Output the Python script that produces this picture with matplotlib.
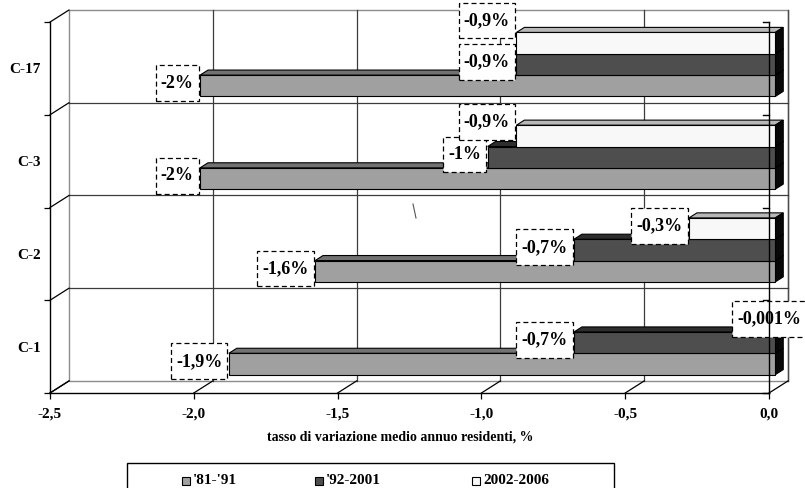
import matplotlib
matplotlib.use("Agg")
import matplotlib.pyplot as plt
from matplotlib.patches import Polygon, Rectangle
from matplotlib.lines import Line2D
from matplotlib.path import Path

# ---- data -------------------------------------------------------------
categories = ["C-1", "C-2", "C-3", "C-17"]
series_names = ["'81-'91", "'92-2001", "2002-2006"]
v_81_91 = [-1.9, -1.6, -2.0, -2.0]
v_92_01 = [-0.7, -0.7, -1.0, -0.9]
v_02_06 = [-0.001, -0.3, -0.9, -0.9]
x_ticks = [-2.5, -2.0, -1.5, -1.0, -0.5, 0.0]
x_ticklabels = ["-2,5", "-2,0", "-1,5", "-1,0", "-0,5", "0,0"]
x_title = "tasso di variazione medio annuo residenti, %"

series_values = [v_81_91, v_92_01, v_02_06]

# ---- style ------------------------------------------------------------
face_colors = ["#a0a0a0", "#4e4e4e", "#f8f8f8"]
top_colors = ["#727272", "#2e2e2e", "#b8b8b8"]
end_color = "#080808"
FONT = "Liberation Serif"
plt.rcParams["font.family"] = [FONT, "DejaVu Serif"]
plt.rcParams["font.weight"] = "bold"

W, H = 805, 488
fig = plt.figure(figsize=(W / 100, H / 100), dpi=100)

# plot box in pixels (front-left corner to back-right corner)
L, R, B, T = 50, 788, 393, 10
ax = fig.add_axes([L / W, 1 - B / H, (R - L) / W, (B - T) / H])

XMIN, XMAX = -2.5, 0.0
NCAT = len(categories)
DX = 0.066          # oblique depth shift (value units)
DY = 0.13           # oblique depth shift (category units)
ax.set_xlim(XMIN, XMAX + DX)
ax.set_ylim(0, NCAT + DY)
ax.patch.set_visible(False)

px_x = (R - L) / (XMAX + DX - XMIN)   # pixels per value unit
px_y = (B - T) / (NCAT + DY)          # pixels per category unit


def proj(x, y, z):
    return (x + z * DX, y + z * DY)


# ---- back wall and floor ---------------------------------------------
wall = Rectangle((XMIN + DX, DY), XMAX - XMIN, NCAT, facecolor="white",
                 edgecolor="#8c8c8c", lw=1.0, zorder=0, clip_on=False)
ax.add_patch(wall)
for t in x_ticks[1:-1]:
    ax.plot([t + DX, t + DX], [DY, NCAT + DY], color="#3c3c3c", lw=0.9,
            zorder=1, clip_on=False)
ax.plot([XMAX + DX, XMAX + DX], [DY, NCAT + DY], color="#4a4a4a", lw=1.0,
        zorder=1, clip_on=False)
for k in range(1, NCAT):
    ax.plot([XMIN + DX, XMAX + DX], [k + DY, k + DY], color="#3c3c3c",
            lw=0.9, zorder=1, clip_on=False)

# depth connectors along the floor and the left side
for t in x_ticks:
    ax.plot([t, t + DX], [0, DY], color="black", lw=0.9, zorder=1,
            clip_on=False)
for k in range(NCAT + 1):
    ax.plot([XMIN, XMIN + DX], [k, k + DY], color="black", lw=0.9,
            zorder=1, clip_on=False)

# ---- 3-D bars ---------------------------------------------------------
BAR_H = 0.23
Z_F, Z_B = 0.33, 0.75
Z_LBL = 0.55


def bar_bottom(ci, si):
    return ci + 0.5 - 1.5 * BAR_H + si * BAR_H


for ci in range(NCAT):
    for si, vals in enumerate(series_values):
        v = vals[ci]
        y0 = bar_bottom(ci, si)
        y1 = y0 + BAR_H
        front = [proj(v, y0, Z_F), proj(0, y0, Z_F),
                 proj(0, y1, Z_F), proj(v, y1, Z_F)]
        top = [proj(v, y1, Z_F), proj(0, y1, Z_F),
               proj(0, y1, Z_B), proj(v, y1, Z_B)]
        end = [proj(0, y0, Z_F), proj(0, y0, Z_B),
               proj(0, y1, Z_B), proj(0, y1, Z_F)]
        z = 2 + ci * 0.1 + si * 0.01
        ax.add_patch(Polygon(top, closed=True, facecolor=top_colors[si],
                             edgecolor="black", lw=0.8, zorder=z,
                             clip_on=False))
        ax.add_patch(Polygon(end, closed=True, facecolor=end_color,
                             edgecolor="black", lw=0.8, zorder=z,
                             clip_on=False))
        ax.add_patch(Polygon(front, closed=True, facecolor=face_colors[si],
                             edgecolor="black", lw=0.8, zorder=z,
                             clip_on=False))

# ---- value labels -----------------------------------------------------
LBL_SIZE = 13
PAD_X, PAD_Y = 0.28, 0.52


def label_box(x0, y0, width, height, mutation_size):
    """Rectangular label frame with separate horizontal/vertical padding."""
    px_, py_ = PAD_X * mutation_size, PAD_Y * mutation_size
    xa, xb = x0 - px_, x0 + width + px_
    ya, yb = y0 - py_, y0 + height + py_
    return Path([(xa, ya), (xb, ya), (xb, yb), (xa, yb), (xa, ya)],
                closed=True)


label_shift_px = {(2, 3): (0, 20), (2, 2): (0, 11), (2, 0): (33, 0)}


def fmt(v):
    return f"{v:g}".replace(".", ",") + "%"


pad_pt = PAD_X * LBL_SIZE
for ci in range(NCAT):
    for si, vals in enumerate(series_values):
        v = vals[ci]
        yc = bar_bottom(ci, si) + BAR_H / 2
        xy = (v + Z_F * DX, proj(v, yc, Z_LBL)[1])
        sx, sy = label_shift_px.get((si, ci), (0, 0))
        ax.annotate(fmt(v), xy=xy, xytext=(-pad_pt - 1 + sx * 0.72, sy * 0.72),
                    textcoords="offset points", ha="right", va="center",
                    fontsize=LBL_SIZE, fontweight="bold", family=FONT,
                    zorder=8, annotation_clip=False,
                    bbox=dict(boxstyle=label_box, fc="white",
                              ec="black", lw=0.9, ls=(0, (4, 2.5))))

# front zero line with its ticks (drawn over bars and labels)
tick_dx = 6 / px_x
ax.plot([0, 0], [0, NCAT], color="black", lw=1.0, zorder=9, clip_on=False)
for k in range(NCAT + 1):
    ax.plot([-tick_dx, 0], [k, k], color="black", lw=1.0, zorder=9,
            clip_on=False)

# ---- axes -------------------------------------------------------------
for side in ("top", "right"):
    ax.spines[side].set_visible(False)
ax.spines["bottom"].set_bounds(XMIN, XMAX)
ax.spines["left"].set_bounds(0, NCAT)
for side in ("bottom", "left"):
    ax.spines[side].set_color("black")
    ax.spines[side].set_linewidth(1.0)
    ax.spines[side].set_zorder(3)

ax.set_xticks(x_ticks)
ax.set_xticklabels(x_ticklabels, fontsize=11, fontweight="bold",
                   family=FONT)
ax.tick_params(axis="x", direction="out", length=4.3, width=0.9, pad=6)

ax.set_yticks(range(NCAT + 1))
ax.set_yticklabels([])
ax.tick_params(axis="y", which="major", direction="out", length=4.3,
               width=0.9)
ax.set_yticks([c + 0.5 for c in range(NCAT)], minor=True)
ax.set_yticklabels(categories, minor=True, fontsize=11, fontweight="bold",
                   family=FONT)
ax.tick_params(axis="y", which="minor", length=0, pad=6.5)

ax.set_xlabel(x_title, fontsize=10, fontweight="bold", family=FONT)
ax.xaxis.set_label_coords((400 - L) / (R - L), (B - 437) / (B - T))
ax.xaxis.label.set_va("center")

# small stray stroke on the wall
ax.add_line(Line2D([(413 - L) / (R - L), (416 - L) / (R - L)],
                   [(B - 204) / (B - T), (B - 218) / (B - T)],
                   transform=ax.transAxes, color="#555555", lw=0.8))


# ---- legend -----------------------------------------------------------
def fx(px):
    return px / W


def fy(py):
    return 1 - py / H


fig.patches.append(Rectangle((fx(127), fy(490)), fx(614) - fx(127),
                             fy(463) - fy(490), transform=fig.transFigure,
                             facecolor="white", edgecolor="black", lw=1.0))
marker_x = [186, 319, 476]
for name, col, mx in zip(series_names, face_colors, marker_x):
    fig.patches.append(Rectangle((fx(mx - 4), fy(485)), fx(8), 8 / H,
                                 transform=fig.transFigure, facecolor=col,
                                 edgecolor="black", lw=0.8))
    fig.text(fx(mx + 7), fy(481), name, fontsize=11, fontweight="bold",
             family=FONT, ha="left", va="center")

fig.savefig("out.png", dpi=100)
